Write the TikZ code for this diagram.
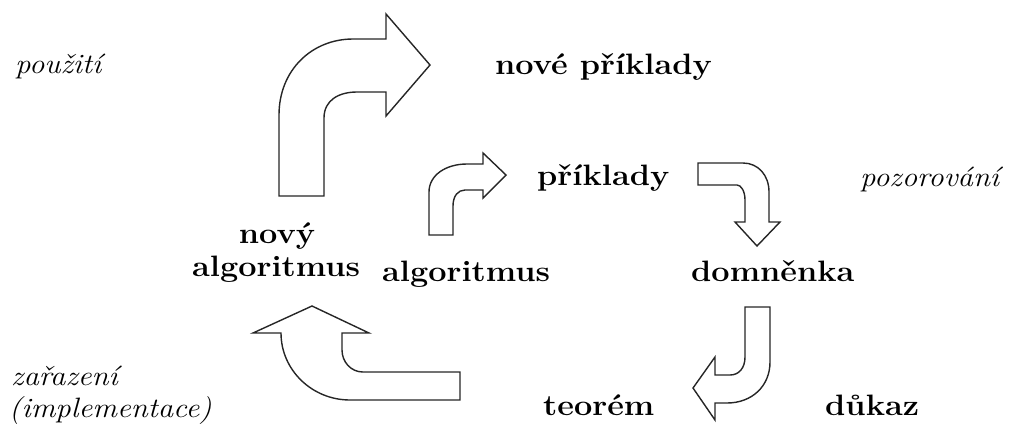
\documentclass[tikz,border=0pt]{standalone}
\usepackage{fontspec}
\setmainfont{Latin Modern Roman}
\newfontfamily\widebf{Latin Modern Roman}[FakeStretch=1.1]
\begin{document}
\begin{tikzpicture}[x=1pt,y=-1pt,
  lbl/.style={anchor=base west,inner sep=0pt,font=\widebf\fontsize{29.5}{32}\selectfont\bfseries},
  ilbl/.style={anchor=base west,inner sep=0pt,font=\widebf\fontsize{28}{32}\selectfont\itshape},
  bigarrow/.style={draw=black!85,line width=1.4pt,line join=miter,fill=white}]
\useasboundingbox (0,0) rectangle (1011,426);
% labels
\node[ilbl] (pouziti) at (15,73) {použití};
\node[lbl] (noveprik) at (495,74) {nové příklady};
\node[lbl] (priklady) at (537,185) {příklady};
\node[ilbl] (pozor) at (860,186) {pozorování};
\node[lbl,anchor=base] (novy) at (277,243) {nový};
\node[lbl] (novyalg) at (192,276) {algoritmus};
\node[lbl] (alg) at (382,281) {algoritmus};
\node[lbl] (domn) at (691,281) {domněnka};
\node[ilbl] (zaraz) at (11,385) {zařazení};
\node[ilbl] (impl) at (9,417) {(implementace)};
\node[lbl] (teorem) at (543,415) {teorém};
\node[lbl] (dukaz) at (825,415) {důkaz};
% arrow 1: big, up-right
\draw[bigarrow] (279,196) -- (279,115) .. controls (279,70) and (312,39) .. (353,39)
  -- (386,39) -- (386,14) -- (430,65) -- (386,116) -- (386,92) -- (357,92)
  .. controls (339,92) and (324,100) .. (324,118) -- (324,196) -- cycle;
% arrow 2: small, up-right
\draw[bigarrow] (429,235) -- (429,192) .. controls (429,175) and (446,164) .. (467,164)
  -- (483,164) -- (483,153) -- (506,175) -- (483,198) -- (483,190) -- (465,190)
  .. controls (458,190) and (453,196) .. (453,206) -- (453,235) -- cycle;
% arrow 3: right-down
\draw[bigarrow] (698,163) -- (743,163) .. controls (758,163) and (769,175) .. (769,192)
  -- (769,222) -- (780,222) -- (757,246) -- (735,222) -- (745,222) -- (745,200)
  .. controls (745,191) and (741,185) .. (737,185) -- (698,185) -- cycle;
% arrow 4: down-left
\draw[bigarrow] (745,307) -- (770,307) -- (770,362) .. controls (770,386) and (752,403) .. (727,403)
  -- (715,403) -- (715,420) -- (693,388) -- (715,357) -- (715,375) -- (730,375)
  .. controls (739,375) and (745,368) .. (745,357) -- cycle;
% arrow 5: left-up
\draw[bigarrow] (460,400) -- (350,400) .. controls (312,400) and (281,370) .. (281,333)
  -- (253,333) -- (312,306) -- (369,333) -- (342,333) -- (342,350)
  .. controls (342,362) and (351,372) .. (363,372) -- (460,372) -- cycle;
\end{tikzpicture}
\end{document}
